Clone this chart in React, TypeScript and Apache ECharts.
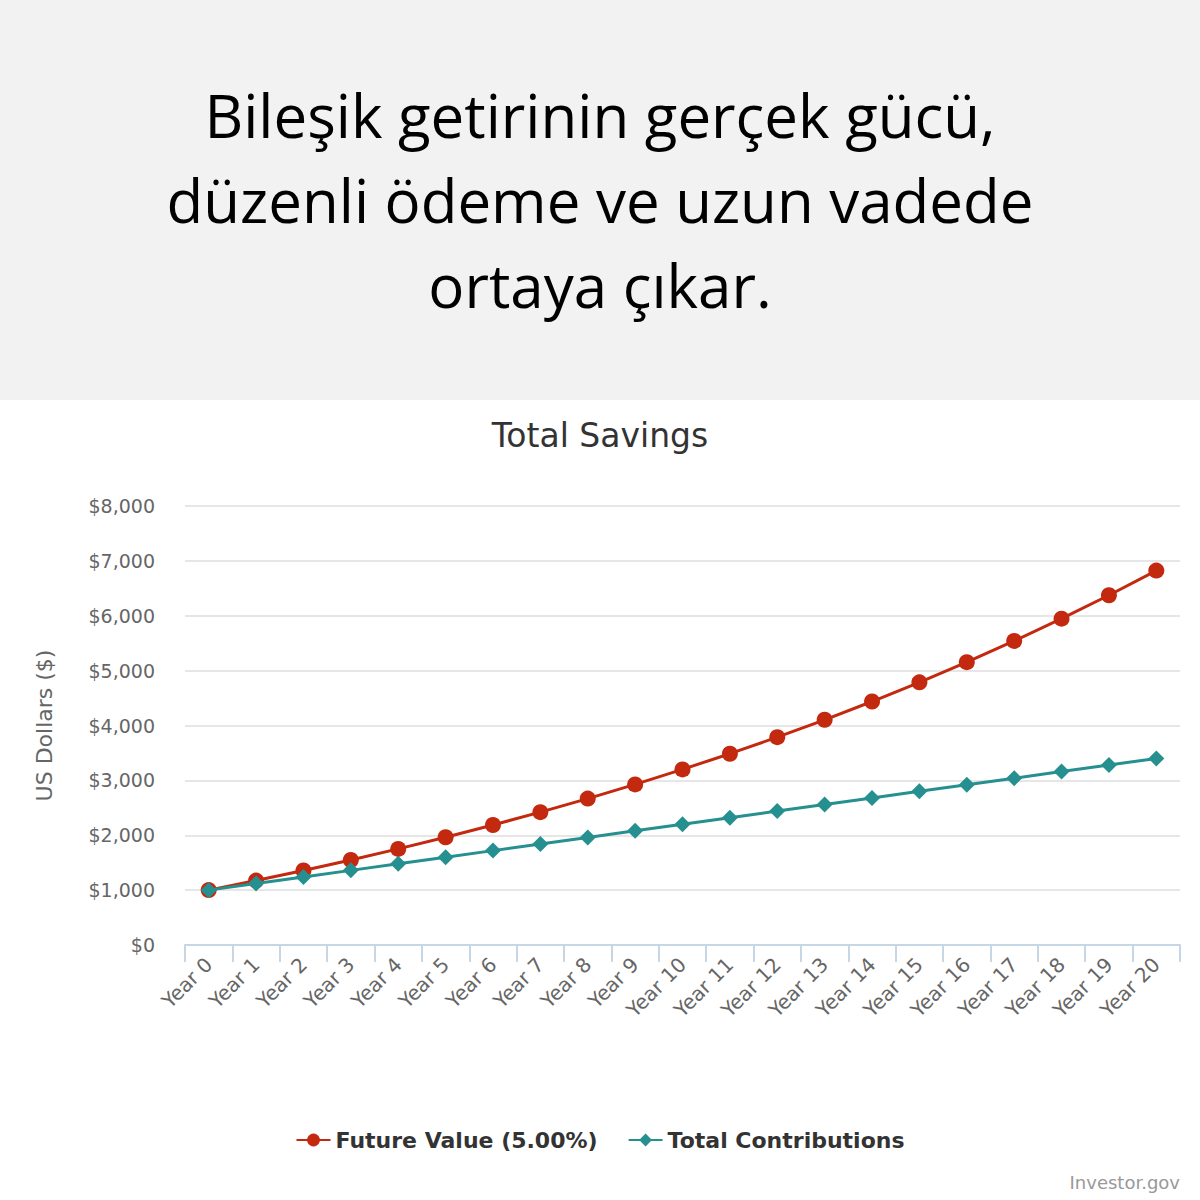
import React, { useEffect, useRef } from "react";
import * as echarts from "echarts";

const headerLines = ["Bileşik getirinin gerçek gücü,", "düzenli ödeme ve uzun vadede", "ortaya çıkar."];
const chartTitle = "Total Savings";
const yAxisName = "US Dollars ($)";
const categories = [
  "Year 0", "Year 1", "Year 2", "Year 3", "Year 4", "Year 5", "Year 6", "Year 7", "Year 8", "Year 9", "Year 10",
  "Year 11", "Year 12", "Year 13", "Year 14", "Year 15", "Year 16", "Year 17", "Year 18", "Year 19", "Year 20",
];
const futureValueName = "Future Value (5.00%)";
const futureValue = [
  1000, 1174, 1357, 1549, 1751, 1963, 2187, 2421, 2668, 2927, 3200,
  3486, 3787, 4104, 4437, 4787, 5154, 5541, 5947, 6374, 6823,
];
const contributionsName = "Total Contributions";
const contributions = [
  1000, 1120, 1240, 1360, 1480, 1600, 1720, 1840, 1960, 2080, 2200,
  2320, 2440, 2560, 2680, 2800, 2920, 3040, 3160, 3280, 3400,
];
const credit = "Investor.gov";

const RED = "#c2290f";
const TEAL = "#25908f";
const CHART_FONT = "DejaVu Sans";

export default function App() {
  const ref = useRef<HTMLDivElement>(null);
  useEffect(() => {
    document.body.style.margin = "0";
    const chart = echarts.init(ref.current!, null, { renderer: "svg" });
    chart.setOption({
      animation: false,
      backgroundColor: "#ffffff",
      graphic: [
        {
          type: "rect",
          shape: { x: 0, y: 0, width: 1200, height: 400 },
          style: { fill: "#f2f2f2" },
          z: -10,
        },
        {
          type: "text",
          x: 600,
          y: 200,
          style: {
            text: headerLines.join("\n"),
            fontFamily: "Open Sans",
            fontSize: 60,
            lineHeight: 85,
            fill: "#000000",
            align: "center",
            verticalAlign: "middle",
          },
        },
        {
          type: "text",
          right: 20,
          top: 1173,
          style: {
            text: credit,
            fontFamily: CHART_FONT,
            fontSize: 18,
            fill: "#999999",
          },
        },
      ],
      title: {
        text: chartTitle,
        left: "center",
        top: 414,
        textStyle: {
          fontFamily: CHART_FONT,
          fontSize: 33,
          fontWeight: "normal",
          color: "#333333",
        },
      },
      legend: {
        bottom: 44,
        left: "center",
        itemGap: 30,
        itemWidth: 34,
        itemHeight: 16,
        textStyle: {
          fontFamily: CHART_FONT,
          fontSize: 22,
          fontWeight: "bold",
          color: "#333333",
        },
        data: [futureValueName, contributionsName],
      },
      grid: { left: 185, right: 20, top: 506, bottom: 255, containLabel: false },
      xAxis: {
        type: "category",
        data: categories,
        boundaryGap: true,
        axisLine: { lineStyle: { color: "#c7d6e4", width: 2 } },
        axisTick: { show: true, alignWithLabel: false, length: 17, lineStyle: { color: "#c7d6e4", width: 2 } },
        axisLabel: {
          rotate: 45,
          interval: 0,
          margin: 16,
          fontFamily: CHART_FONT,
          fontSize: 20,
          color: "#666666",
        },
      },
      yAxis: {
        type: "value",
        min: 0,
        max: 8000,
        interval: 1000,
        name: yAxisName,
        nameLocation: "middle",
        nameGap: 130,
        nameTextStyle: { fontFamily: CHART_FONT, fontSize: 22, color: "#666666" },
        axisLine: { show: false },
        axisTick: { show: false },
        axisLabel: {
          margin: 30,
          fontFamily: CHART_FONT,
          fontSize: 19,
          color: "#666666",
          formatter: (v: number) => "$" + v.toLocaleString("en-US"),
        },
        splitLine: { lineStyle: { color: "#e6e6e6", width: 2 } },
      },
      series: [
        {
          name: futureValueName,
          type: "line",
          data: futureValue,
          symbol: "circle",
          symbolSize: 16,
          itemStyle: { color: RED },
          lineStyle: { color: RED, width: 3 },
          z: 2,
        },
        {
          name: contributionsName,
          type: "line",
          data: contributions,
          symbol: "diamond",
          symbolSize: 16,
          itemStyle: { color: TEAL },
          lineStyle: { color: TEAL, width: 3 },
          z: 3,
        },
      ],
    });
    return () => chart.dispose();
  }, []);
  return <div ref={ref} style={{ width: 1200, height: 1200 }} />;
}
